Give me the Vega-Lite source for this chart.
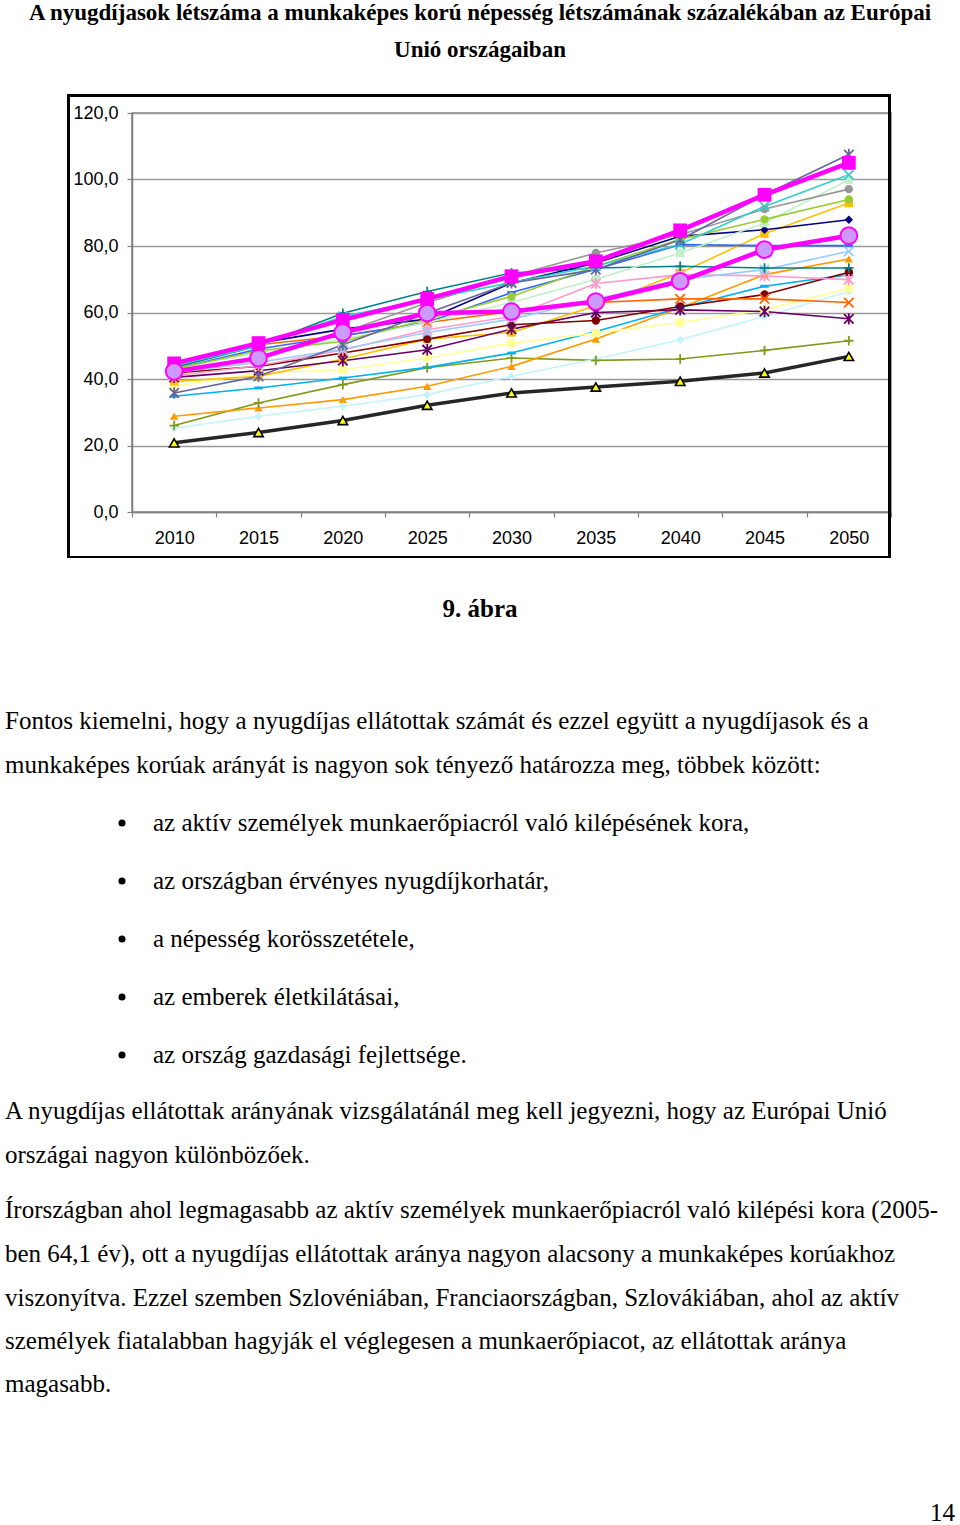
{
  "$schema": "https://vega.github.io/schema/vega-lite/v6.json",
  "width": 759,
  "height": 399,
  "autosize": {"type": "none"},
  "padding": {"left": 132, "top": 113, "right": 69, "bottom": 1013},
  "background": "white",
  "config": {"view": {"stroke": "#808080", "strokeWidth": 1.5}},
  "datasets": {
    "series": [
      {"s":"black","year":2010,"v":20.8},{"s":"black","year":2015,"v":23.9},{"s":"black","year":2020,"v":27.5},{"s":"black","year":2025,"v":32.1},{"s":"black","year":2030,"v":35.8},{"s":"black","year":2035,"v":37.6},{"s":"black","year":2040,"v":39.3},{"s":"black","year":2045,"v":41.8},{"s":"black","year":2050,"v":46.8},
      {"s":"olive","year":2010,"v":26.0},{"s":"olive","year":2015,"v":32.8},{"s":"olive","year":2020,"v":38.3},{"s":"olive","year":2025,"v":43.4},{"s":"olive","year":2030,"v":46.3},{"s":"olive","year":2035,"v":45.6},{"s":"olive","year":2040,"v":46.0},{"s":"olive","year":2045,"v":48.6},{"s":"olive","year":2050,"v":51.5},
      {"s":"orangetri","year":2010,"v":28.8},{"s":"orangetri","year":2015,"v":31.3},{"s":"orangetri","year":2020,"v":33.8},{"s":"orangetri","year":2025,"v":37.8},{"s":"orangetri","year":2030,"v":43.8},{"s":"orangetri","year":2035,"v":52.0},{"s":"orangetri","year":2040,"v":61.4},{"s":"orangetri","year":2045,"v":71.4},{"s":"orangetri","year":2050,"v":76.1},
      {"s":"palecyan","year":2010,"v":25.2},{"s":"palecyan","year":2015,"v":28.8},{"s":"palecyan","year":2020,"v":31.8},{"s":"palecyan","year":2025,"v":35.3},{"s":"palecyan","year":2030,"v":40.8},{"s":"palecyan","year":2035,"v":46.0},{"s":"palecyan","year":2040,"v":51.8},{"s":"palecyan","year":2045,"v":58.8},{"s":"palecyan","year":2050,"v":66.3},
      {"s":"cyan","year":2010,"v":34.8},{"s":"cyan","year":2015,"v":37.3},{"s":"cyan","year":2020,"v":40.3},{"s":"cyan","year":2025,"v":43.5},{"s":"cyan","year":2030,"v":47.8},{"s":"cyan","year":2035,"v":54.3},{"s":"cyan","year":2040,"v":61.4},{"s":"cyan","year":2045,"v":67.9},{"s":"cyan","year":2050,"v":71.4},
      {"s":"paleyellow","year":2010,"v":37.8},{"s":"paleyellow","year":2015,"v":41.8},{"s":"paleyellow","year":2020,"v":42.8},{"s":"paleyellow","year":2025,"v":46.3},{"s":"paleyellow","year":2030,"v":50.8},{"s":"paleyellow","year":2035,"v":53.8},{"s":"paleyellow","year":2040,"v":57.0},{"s":"paleyellow","year":2045,"v":60.8},{"s":"paleyellow","year":2050,"v":67.3},
      {"s":"gold","year":2010,"v":39.3},{"s":"gold","year":2015,"v":40.8},{"s":"gold","year":2020,"v":46.0},{"s":"gold","year":2025,"v":52.0},{"s":"gold","year":2030,"v":54.0},{"s":"gold","year":2035,"v":62.0},{"s":"gold","year":2040,"v":71.9},{"s":"gold","year":2045,"v":83.7},{"s":"gold","year":2050,"v":92.9},
      {"s":"purple","year":2010,"v":40.5},{"s":"purple","year":2015,"v":42.5},{"s":"purple","year":2020,"v":45.5},{"s":"purple","year":2025,"v":48.8},{"s":"purple","year":2030,"v":55.0},{"s":"purple","year":2035,"v":60.0},{"s":"purple","year":2040,"v":60.8},{"s":"purple","year":2045,"v":60.3},{"s":"purple","year":2050,"v":58.1},
      {"s":"maroon","year":2010,"v":41.8},{"s":"maroon","year":2015,"v":43.8},{"s":"maroon","year":2020,"v":47.8},{"s":"maroon","year":2025,"v":52.0},{"s":"maroon","year":2030,"v":56.3},{"s":"maroon","year":2035,"v":57.6},{"s":"maroon","year":2040,"v":61.8},{"s":"maroon","year":2045,"v":65.4},{"s":"maroon","year":2050,"v":72.1},
      {"s":"orangex","year":2010,"v":44.2},{"s":"orangex","year":2015,"v":50.3},{"s":"orangex","year":2020,"v":53.0},{"s":"orangex","year":2025,"v":57.0},{"s":"orangex","year":2030,"v":60.3},{"s":"orangex","year":2035,"v":63.0},{"s":"orangex","year":2040,"v":64.1},{"s":"orangex","year":2045,"v":64.1},{"s":"orangex","year":2050,"v":63.0},
      {"s":"pink","year":2010,"v":41.0},{"s":"pink","year":2015,"v":44.0},{"s":"pink","year":2020,"v":48.7},{"s":"pink","year":2025,"v":54.8},{"s":"pink","year":2030,"v":58.8},{"s":"pink","year":2035,"v":68.7},{"s":"pink","year":2040,"v":71.4},{"s":"pink","year":2045,"v":71.0},{"s":"pink","year":2050,"v":69.9},
      {"s":"lightblue","year":2010,"v":42.0},{"s":"lightblue","year":2015,"v":45.0},{"s":"lightblue","year":2020,"v":49.0},{"s":"lightblue","year":2025,"v":54.0},{"s":"lightblue","year":2030,"v":58.0},{"s":"lightblue","year":2035,"v":64.0},{"s":"lightblue","year":2040,"v":69.9},{"s":"lightblue","year":2045,"v":72.9},{"s":"lightblue","year":2050,"v":78.4},
      {"s":"teal","year":2010,"v":43.5},{"s":"teal","year":2015,"v":50.0},{"s":"teal","year":2020,"v":59.8},{"s":"teal","year":2025,"v":66.3},{"s":"teal","year":2030,"v":71.9},{"s":"teal","year":2035,"v":73.4},{"s":"teal","year":2040,"v":73.9},{"s":"teal","year":2045,"v":73.4},{"s":"teal","year":2050,"v":73.4},
      {"s":"navy","year":2010,"v":44.7},{"s":"navy","year":2015,"v":50.8},{"s":"navy","year":2020,"v":55.0},{"s":"navy","year":2025,"v":58.0},{"s":"navy","year":2030,"v":68.9},{"s":"navy","year":2035,"v":74.9},{"s":"navy","year":2040,"v":82.9},{"s":"navy","year":2045,"v":84.9},{"s":"navy","year":2050,"v":87.9},
      {"s":"royal","year":2010,"v":43.0},{"s":"royal","year":2015,"v":49.0},{"s":"royal","year":2020,"v":53.0},{"s":"royal","year":2025,"v":57.0},{"s":"royal","year":2030,"v":66.0},{"s":"royal","year":2035,"v":73.0},{"s":"royal","year":2040,"v":80.4},{"s":"royal","year":2045,"v":80.1},{"s":"royal","year":2050,"v":80.1},
      {"s":"mint","year":2010,"v":43.0},{"s":"mint","year":2015,"v":48.0},{"s":"mint","year":2020,"v":52.0},{"s":"mint","year":2025,"v":57.0},{"s":"mint","year":2030,"v":63.0},{"s":"mint","year":2035,"v":70.0},{"s":"mint","year":2040,"v":77.9},{"s":"mint","year":2045,"v":86.9},{"s":"mint","year":2050,"v":99.9},
      {"s":"lime","year":2010,"v":43.0},{"s":"lime","year":2015,"v":48.5},{"s":"lime","year":2020,"v":51.3},{"s":"lime","year":2025,"v":58.0},{"s":"lime","year":2030,"v":64.8},{"s":"lime","year":2035,"v":73.9},{"s":"lime","year":2040,"v":82.0},{"s":"lime","year":2045,"v":88.0},{"s":"lime","year":2050,"v":94.0},
      {"s":"gray","year":2010,"v":42.3},{"s":"gray","year":2015,"v":46.3},{"s":"gray","year":2020,"v":54.0},{"s":"gray","year":2025,"v":62.9},{"s":"gray","year":2030,"v":70.9},{"s":"gray","year":2035,"v":77.9},{"s":"gray","year":2040,"v":83.4},{"s":"gray","year":2045,"v":91.1},{"s":"gray","year":2050,"v":97.1},
      {"s":"turq","year":2010,"v":44.0},{"s":"turq","year":2015,"v":50.0},{"s":"turq","year":2020,"v":58.8},{"s":"turq","year":2025,"v":64.0},{"s":"turq","year":2030,"v":69.0},{"s":"turq","year":2035,"v":74.0},{"s":"turq","year":2040,"v":80.5},{"s":"turq","year":2045,"v":91.9},{"s":"turq","year":2050,"v":101.4},
      {"s":"slate","year":2010,"v":35.8},{"s":"slate","year":2015,"v":40.8},{"s":"slate","year":2020,"v":50.3},{"s":"slate","year":2025,"v":59.8},{"s":"slate","year":2030,"v":68.9},{"s":"slate","year":2035,"v":72.9},{"s":"slate","year":2040,"v":81.9},{"s":"slate","year":2045,"v":95.4},{"s":"slate","year":2050,"v":107.5},
      {"s":"magsq","year":2010,"v":44.7},{"s":"magsq","year":2015,"v":50.8},{"s":"magsq","year":2020,"v":57.8},{"s":"magsq","year":2025,"v":64.1},{"s":"magsq","year":2030,"v":70.9},{"s":"magsq","year":2035,"v":75.4},{"s":"magsq","year":2040,"v":84.7},{"s":"magsq","year":2045,"v":95.4},{"s":"magsq","year":2050,"v":105.0},
      {"s":"magci","year":2010,"v":42.3},{"s":"magci","year":2015,"v":46.3},{"s":"magci","year":2020,"v":54.0},{"s":"magci","year":2025,"v":59.8},{"s":"magci","year":2030,"v":60.3},{"s":"magci","year":2035,"v":63.3},{"s":"magci","year":2040,"v":69.4},{"s":"magci","year":2045,"v":78.9},{"s":"magci","year":2050,"v":83.1}
    ],
    "text": [
      {"kind":"title","col":4,"line":1,"t":"A nyugdíjasok létszáma a munkaképes korú népesség létszámának százalékában az Európai"},
      {"kind":"title","col":4,"line":2,"t":"Unió országaiban"},
      {"kind":"caption","col":4,"line":3,"t":"9. ábra"},
      {"kind":"body","col":1,"line":4,"t":"Fontos kiemelni, hogy a nyugdíjas ellátottak számát és ezzel együtt a nyugdíjasok és a"},
      {"kind":"body","col":1,"line":5,"t":"munkaképes korúak arányát is nagyon sok tényező határozza meg, többek között:"},
      {"kind":"bullet","col":3,"line":6,"t":"az aktív személyek munkaerőpiacról való kilépésének kora,"},
      {"kind":"bullet","col":3,"line":7,"t":"az országban érvényes nyugdíjkorhatár,"},
      {"kind":"bullet","col":3,"line":8,"t":"a népesség korösszetétele,"},
      {"kind":"bullet","col":3,"line":9,"t":"az emberek életkilátásai,"},
      {"kind":"bullet","col":3,"line":10,"t":"az ország gazdasági fejlettsége."},
      {"kind":"body","col":1,"line":11,"t":"A nyugdíjas ellátottak arányának vizsgálatánál meg kell jegyezni, hogy az Európai Unió"},
      {"kind":"body","col":1,"line":12,"t":"országai nagyon különbözőek."},
      {"kind":"body","col":1,"line":13,"t":"Írországban ahol legmagasabb az aktív személyek munkaerőpiacról való kilépési kora (2005-"},
      {"kind":"body","col":1,"line":14,"t":"ben 64,1 év), ott a nyugdíjas ellátottak aránya nagyon alacsony a munkaképes korúakhoz"},
      {"kind":"body","col":1,"line":15,"t":"viszonyítva. Ezzel szemben Szlovéniában, Franciaországban, Szlovákiában, ahol az aktív"},
      {"kind":"body","col":1,"line":16,"t":"személyek fiatalabban hagyják el véglegesen a munkaerőpiacot, az ellátottak aránya"},
      {"kind":"body","col":1,"line":17,"t":"magasabb."},
      {"kind":"page","col":5,"line":18,"t":"14"}
    ]
  },
  "layer": [
    {
      "data": {"name": "series"},
      "layer": [
        {
          "mark": {"type": "rect", "fill": "white", "fillOpacity": 0, "stroke": "black", "strokeWidth": 2},
          "encoding": {
            "x": {"datum": 2003.74, "type": "quantitative"},
            "x2": {"datum": 2052.42},
            "y": {"datum": 125.3, "type": "quantitative"},
            "y2": {"datum": -13.5}
          }
        },
        {
          "transform": [{"filter": {"not": {"field": "s", "oneOf": ["black", "magsq", "magci"]}}}],
          "mark": {"type": "line", "strokeWidth": 1.6},
          "encoding": {
            "x": {"field": "year", "type": "quantitative",
              "scale": {"domain": [2007.5, 2052.5], "nice": false, "zero": false},
              "axis": {"title": null, "values": [2007.5, 2012.5, 2017.5, 2022.5, 2027.5, 2032.5, 2037.5, 2042.5, 2047.5, 2052.5],
                "labelExpr": "datum.value < 2050 ? format(datum.value + 2.5, 'd') : ''",
                "labelOffset": 42.17, "tickSize": 5, "labelPadding": 12, "labelFontSize": 18, "labelFont": "Liberation Sans",
                "labelColor": "black", "domainColor": "#808080", "domainWidth": 1.5, "tickColor": "#808080", "tickWidth": 1.2,
                "grid": false, "labelOverlap": false, "labelBound": false, "labelFlush": false}},
            "y": {"field": "v", "type": "quantitative",
              "scale": {"domain": [0, 120], "nice": false, "zero": true},
              "axis": {"title": null, "values": [0, 20, 40, 60, 80, 100, 120],
                "labelExpr": "replace(format(datum.value, '.1f'), '.', ',')",
                "tickSize": 5, "labelPadding": 9, "labelFontSize": 18, "labelFont": "Liberation Sans", "labelColor": "black",
                "grid": true, "gridColor": "#999999", "gridWidth": 1.5, "domainColor": "#808080", "domainWidth": 1.5,
                "tickColor": "#808080", "tickWidth": 1.2, "labelOverlap": false}},
            "color": {"field": "s", "type": "nominal", "legend": null,
              "scale": {
                "domain": ["black","olive","orangetri","palecyan","cyan","paleyellow","gold","purple","maroon","orangex","pink","lightblue","teal","navy","royal","mint","lime","gray","turq","slate","magsq","magci"],
                "range": ["#262626","#7F9A1A","#FF9900","#C4F4FA","#00B0F0","#FFFF99","#FFC000","#660066","#800000","#FF6600","#FF99CC","#99CCFF","#008080","#000080","#3366FF","#C0F0C8","#99CC33","#969696","#33CCCC","#666699","#FF00FF","#FF00FF"]}}
          }
        },
        {
          "transform": [{"filter": {"field": "s", "oneOf": ["orangetri","palecyan","cyan","paleyellow","gold","maroon","navy","royal","mint","lime","gray"]}}],
          "mark": {"type": "point", "filled": true, "opacity": 1, "size": 70},
          "encoding": {
            "x": {"field": "year", "type": "quantitative"},
            "y": {"field": "v", "type": "quantitative"},
            "color": {"field": "s", "type": "nominal", "legend": null},
            "shape": {"field": "s", "type": "nominal", "legend": null,
              "scale": {
                "domain": ["orangetri","palecyan","cyan","paleyellow","gold","maroon","navy","royal","mint","lime","gray","olive","purple","orangex","pink","lightblue","teal","turq","slate"],
                "range": ["triangle-up","diamond","M-1,-0.35L1,-0.35L1,0.35L-1,0.35Z","square","square","circle","diamond","M-1,-0.35L1,-0.35L1,0.35L-1,0.35Z","square","circle","circle","M-1,0L1,0M0,-1L0,1","M-1,-1L1,1M-1,1L1,-1M0,-1.2L0,1.2","M-1,-1L1,1M-1,1L1,-1","M-1,-1L1,1M-1,1L1,-1M0,-1.2L0,1.2","M-1,-1L1,1M-1,1L1,-1","M-1,0L1,0M0,-1L0,1","M-1,-1L1,1M-1,1L1,-1","M-1,-1L1,1M-1,1L1,-1M0,-1.2L0,1.2"]}}
          }
        },
        {
          "transform": [{"filter": {"field": "s", "oneOf": ["olive","purple","orangex","pink","lightblue","teal","turq","slate"]}}],
          "mark": {"type": "point", "filled": false, "opacity": 1, "size": 90, "strokeWidth": 1.8},
          "encoding": {
            "x": {"field": "year", "type": "quantitative"},
            "y": {"field": "v", "type": "quantitative"},
            "color": {"field": "s", "type": "nominal", "legend": null},
            "shape": {"field": "s", "type": "nominal", "legend": null}
          }
        },
        {
          "transform": [{"filter": {"field": "s", "equal": "black"}}],
          "mark": {"type": "line", "strokeWidth": 3.5, "color": "#262626"},
          "encoding": {
            "x": {"field": "year", "type": "quantitative"},
            "y": {"field": "v", "type": "quantitative"}
          }
        },
        {
          "transform": [{"filter": {"field": "s", "equal": "black"}}],
          "mark": {"type": "point", "shape": "triangle-up", "filled": true, "opacity": 1, "size": 90, "fill": "#FFFF00", "stroke": "#000000", "strokeWidth": 1.6},
          "encoding": {
            "x": {"field": "year", "type": "quantitative"},
            "y": {"field": "v", "type": "quantitative"}
          }
        },
        {
          "transform": [{"filter": {"field": "s", "oneOf": ["magsq", "magci"]}}],
          "mark": {"type": "line", "strokeWidth": 4.5, "color": "#FF00FF"},
          "encoding": {
            "x": {"field": "year", "type": "quantitative"},
            "y": {"field": "v", "type": "quantitative"},
            "detail": {"field": "s", "type": "nominal"}
          }
        },
        {
          "transform": [{"filter": {"field": "s", "equal": "magsq"}}],
          "mark": {"type": "point", "shape": "square", "filled": true, "opacity": 1, "size": 190, "color": "#FF00FF"},
          "encoding": {
            "x": {"field": "year", "type": "quantitative"},
            "y": {"field": "v", "type": "quantitative"}
          }
        },
        {
          "transform": [{"filter": {"field": "s", "equal": "magci"}}],
          "mark": {"type": "point", "shape": "circle", "filled": true, "opacity": 1, "size": 280, "fill": "#CC99FF", "stroke": "#FF00FF", "strokeWidth": 2},
          "encoding": {
            "x": {"field": "year", "type": "quantitative"},
            "y": {"field": "v", "type": "quantitative"}
          }
        }
      ]
    },
    {
      "data": {"name": "text"},
      "layer": [
        {
          "transform": [{"filter": {"field": "kind", "equal": "title"}}],
          "mark": {"type": "text", "align": "center", "baseline": "middle", "font": "Liberation Serif", "fontWeight": "bold", "fontSize": 23, "color": "black"},
          "encoding": {
            "x": {"field": "col", "type": "quantitative", "axis": null,
              "scale": {"domain": [1, 2, 3, 4, 5], "range": [-127, -10, 21, 348, 823], "nice": false, "zero": false}},
            "y": {"field": "line", "type": "quantitative", "axis": null,
              "scale": {"domain": [1, 2, 3, 4, 5, 6, 7, 8, 9, 10, 11, 12, 13, 14, 15, 16, 17, 18],
                "range": [-100, -63, 496, 608, 652, 710, 768, 826, 884, 942, 998, 1042, 1097, 1141, 1185, 1228, 1271, 1400], "nice": false, "zero": false}},
            "text": {"field": "t", "type": "nominal"}
          }
        },
        {
          "transform": [{"filter": {"field": "kind", "equal": "caption"}}],
          "mark": {"type": "text", "align": "center", "baseline": "middle", "font": "Liberation Serif", "fontWeight": "bold", "fontSize": 25, "color": "black"},
          "encoding": {
            "x": {"field": "col", "type": "quantitative", "axis": null},
            "y": {"field": "line", "type": "quantitative", "axis": null},
            "text": {"field": "t", "type": "nominal"}
          }
        },
        {
          "transform": [{"filter": {"field": "kind", "oneOf": ["body", "bullet"]}}],
          "mark": {"type": "text", "align": "left", "baseline": "middle", "font": "Liberation Serif", "fontSize": 25, "color": "black"},
          "encoding": {
            "x": {"field": "col", "type": "quantitative", "axis": null},
            "y": {"field": "line", "type": "quantitative", "axis": null},
            "text": {"field": "t", "type": "nominal"}
          }
        },
        {
          "transform": [{"filter": {"field": "kind", "equal": "bullet"}}],
          "mark": {"type": "point", "shape": "circle", "filled": true, "opacity": 1, "size": 50, "color": "black"},
          "encoding": {
            "x": {"datum": 2, "type": "quantitative", "axis": null},
            "y": {"field": "line", "type": "quantitative", "axis": null}
          }
        },
        {
          "transform": [{"filter": {"field": "kind", "equal": "page"}}],
          "mark": {"type": "text", "align": "right", "baseline": "middle", "font": "Liberation Serif", "fontSize": 25, "color": "black"},
          "encoding": {
            "x": {"field": "col", "type": "quantitative", "axis": null},
            "y": {"field": "line", "type": "quantitative", "axis": null},
            "text": {"field": "t", "type": "nominal"}
          }
        }
      ]
    }
  ],
  "resolve": {"scale": {"x": "independent", "y": "independent"}}
}
